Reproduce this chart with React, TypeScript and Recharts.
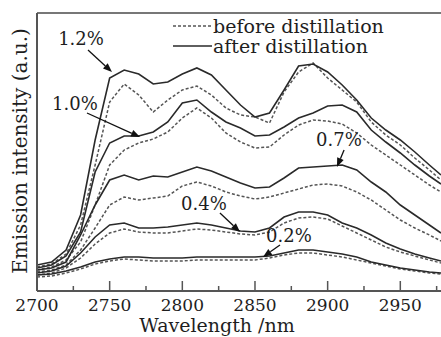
import React from 'react';
import { LineChart, Line, XAxis, YAxis, ReferenceLine, ReferenceDot } from 'recharts';

const wavelengths = [2700, 2710, 2720, 2730, 2740, 2750, 2760, 2770, 2780, 2790, 2800, 2810, 2820, 2830, 2840, 2850, 2860, 2870, 2880, 2890, 2900, 2910, 2920, 2930, 2940, 2950, 2960, 2970, 2978];

const after12 = [26, 29, 41, 76, 151, 213, 221, 217, 207, 209, 217, 223, 216, 201, 186, 174, 178, 201, 225, 227, 219, 206, 191, 173, 161, 151, 139, 126, 116];
const before12 = [24, 27, 37, 66, 126, 189, 207, 196, 179, 191, 201, 205, 196, 183, 176, 174, 168, 199, 219, 228, 213, 201, 189, 169, 156, 146, 133, 121, 111];
const after10 = [23, 26, 35, 59, 119, 148, 155, 155, 159, 169, 188, 191, 179, 169, 163, 155, 156, 164, 173, 178, 185, 186, 179, 161, 149, 138, 126, 115, 107];
const before10 = [21, 24, 31, 49, 86, 126, 141, 148, 152, 159, 173, 183, 173, 158, 149, 143, 144, 156, 166, 171, 170, 167, 158, 146, 136, 126, 116, 106, 99];
const after07 = [21, 23, 29, 56, 86, 111, 116, 111, 115, 114, 119, 124, 120, 114, 108, 103, 104, 113, 123, 124, 125, 126, 121, 109, 99, 86, 76, 66, 58];
const before07 = [19, 21, 26, 41, 63, 86, 94, 91, 93, 95, 105, 109, 105, 99, 95, 92, 94, 98, 102, 106, 107, 105, 99, 91, 81, 71, 63, 56, 50];
const after04 = [18, 20, 25, 38, 54, 66, 68, 63, 63, 64, 66, 68, 66, 63, 60, 59, 63, 74, 79, 79, 76, 68, 63, 56, 48, 42, 37, 33, 30];
const before04 = [16, 18, 23, 33, 47, 58, 62, 59, 58, 58, 60, 62, 61, 59, 57, 56, 59, 68, 73, 74, 72, 65, 58, 51, 44, 39, 35, 31, 28];
const after02 = [16, 17, 20, 24, 29, 32, 34, 34, 33, 33, 33, 34, 34, 34, 34, 34, 35, 38, 41, 41, 39, 37, 34, 29, 26, 23, 21, 19, 18];
const before02 = [14, 15, 18, 22, 27, 30, 32, 31, 30, 30, 30, 31, 31, 31, 31, 31, 33, 36, 38, 38, 36, 34, 31, 28, 25, 22, 20, 18, 17];

const xTicks = [2700, 2725, 2750, 2775, 2800, 2825, 2850, 2875, 2900, 2925, 2950, 2975];
const xLabelTicks = [2700, 2750, 2800, 2850, 2900, 2950];

const annotations = [
  { text: '1.2%', tx: 2730.3, ty: 253, x1: 2735.1, y1: 241, x2: 2751.6, y2: 219 },
  { text: '1.0%', tx: 2726.1, ty: 188, x1: 2734.4, y1: 178, x2: 2770.9, y2: 154 },
  { text: '0.7%', tx: 2907.8, ty: 152, x1: 2911.3, y1: 141, x2: 2906.4, y2: 124 },
  { text: '0.4%', tx: 2814.9, ty: 88, x1: 2825.9, y1: 78, x2: 2839.7, y2: 59 },
  { text: '0.2%', tx: 2873.4, ty: 56, x1: 2867.2, y1: 46, x2: 2855.5, y2: 34 },
];

const data = wavelengths.map((w, i) => ({
  w,
  a12: after12[i], b12: before12[i],
  a10: after10[i], b10: before10[i],
  a07: after07[i], b07: before07[i],
  a04: after04[i], b04: before04[i],
  a02: after02[i], b02: before02[i],
}));

const FONT = '"DejaVu Serif", serif';
const TEXT = '#1e1e1e';
const AXIS = '#555';

const Arrow = (props: any) => {
  const { x1, y1, x2, y2 } = props;
  const ang = Math.atan2(y2 - y1, x2 - x1);
  const L = 9, W = 3.5;
  const bx = x2 - L * Math.cos(ang), by = y2 - L * Math.sin(ang);
  const px = -Math.sin(ang) * W, py = Math.cos(ang) * W;
  return (
    <g>
      <line x1={x1} y1={y1} x2={bx} y2={by} stroke="#111" strokeWidth={1.3} />
      <polygon points={`${x2},${y2} ${bx + px},${by + py} ${bx - px},${by - py}`} fill="#111" />
    </g>
  );
};

const seriesDefs = [
  { key: 'b12', dashed: true }, { key: 'b10', dashed: true }, { key: 'b07', dashed: true },
  { key: 'b04', dashed: true }, { key: 'b02', dashed: true },
  { key: 'a12', dashed: false }, { key: 'a10', dashed: false }, { key: 'a07', dashed: false },
  { key: 'a04', dashed: false }, { key: 'a02', dashed: false },
];

export default function App() {
  return (
    <div style={{ position: 'absolute', left: 0, top: 0, width: 441, height: 337, background: '#fff', overflow: 'hidden' }}>
      <LineChart width={441} height={337} data={data} margin={{ top: 13, right: 0, bottom: 0, left: 0 }}>
        <XAxis
          dataKey="w"
          type="number"
          domain={[2700, 2978]}
          ticks={xTicks}
          tick={false}
          tickLine={false}
          height={46}
          axisLine={{ stroke: AXIS, strokeWidth: 2 }}
          allowDataOverflow
        />
        <YAxis
          type="number"
          domain={[0, 278]}
          width={37}
          tick={false}
          tickLine={false}
          axisLine={{ stroke: AXIS, strokeWidth: 2 }}
          allowDataOverflow
        />
        <ReferenceLine y={278} stroke="#777" strokeWidth={2} ifOverflow="visible" />
        {seriesDefs.map((s) => (
          <Line
            key={s.key}
            dataKey={s.key}
            type="linear"
            stroke={s.dashed ? '#555' : '#2a2a2a'}
            strokeWidth={s.dashed ? 1.5 : 1.6}
            strokeDasharray={s.dashed ? '3 2' : undefined}
            dot={false}
            activeDot={false}
            isAnimationActive={false}
          />
        ))}
        {xTicks.map((v) => {
          const major = xLabelTicks.includes(v);
          return (
            <ReferenceDot
              key={'tick' + v}
              x={v}
              y={0}
              r={0}
              ifOverflow="visible"
              shape={(p: any) => (
                <g>
                  <line x1={p.cx} y1={p.cy} x2={p.cx} y2={p.cy - (major ? 10 : 5)} stroke={AXIS} strokeWidth={1.5} />
                  {major && (
                    <text x={p.cx} y={p.cy + 20} textAnchor="middle" fontFamily={FONT} fontSize={17} fill={TEXT}>
                      {v}
                    </text>
                  )}
                </g>
              )}
            />
          );
        })}
        {annotations.map((a) => (
          <ReferenceLine
            key={'arr' + a.text}
            segment={[{ x: a.x1, y: a.y1 }, { x: a.x2, y: a.y2 }]}
            ifOverflow="visible"
            shape={<Arrow />}
          />
        ))}
        {annotations.map((a) => (
          <ReferenceDot
            key={'lbl' + a.text}
            x={a.tx}
            y={a.ty}
            r={0}
            ifOverflow="visible"
            shape={(p: any) => (
              <text x={p.cx} y={p.cy} textAnchor="middle" dominantBaseline="central" fontFamily={FONT} fontSize={18} fill={TEXT}>
                {a.text}
              </text>
            )}
          />
        ))}
      </LineChart>
      <svg width={441} height={337} style={{ position: 'absolute', left: 0, top: 0, pointerEvents: 'none' }}>
        <text x={217} y={332} textAnchor="middle" fontFamily={FONT} fontSize={19} fill={TEXT}>
          Wavelength /nm
        </text>
        <text transform="translate(20,151) rotate(-90)" textAnchor="middle" dominantBaseline="central" fontFamily={FONT} fontSize={20} fill={TEXT}>
          Emission intensity (a.u.)
        </text>
      </svg>
      <div style={{ position: 'absolute', left: 173, top: 16, fontFamily: FONT, fontSize: 19, color: TEXT, lineHeight: '19px' }}>
        <div style={{ display: 'flex', alignItems: 'center', height: 20 }}>
          <svg width={40} height={6}><line x1={0} y1={3} x2={39} y2={3} stroke="#555" strokeWidth={1.5} strokeDasharray="3 2" /></svg>
          <span style={{ whiteSpace: 'nowrap' }}>before distillation</span>
        </div>
        <div style={{ display: 'flex', alignItems: 'center', height: 20 }}>
          <svg width={40} height={6}><line x1={0} y1={3} x2={39} y2={3} stroke="#2a2a2a" strokeWidth={1.6} /></svg>
          <span style={{ whiteSpace: 'nowrap' }}>after distillation</span>
        </div>
      </div>
    </div>
  );
}
